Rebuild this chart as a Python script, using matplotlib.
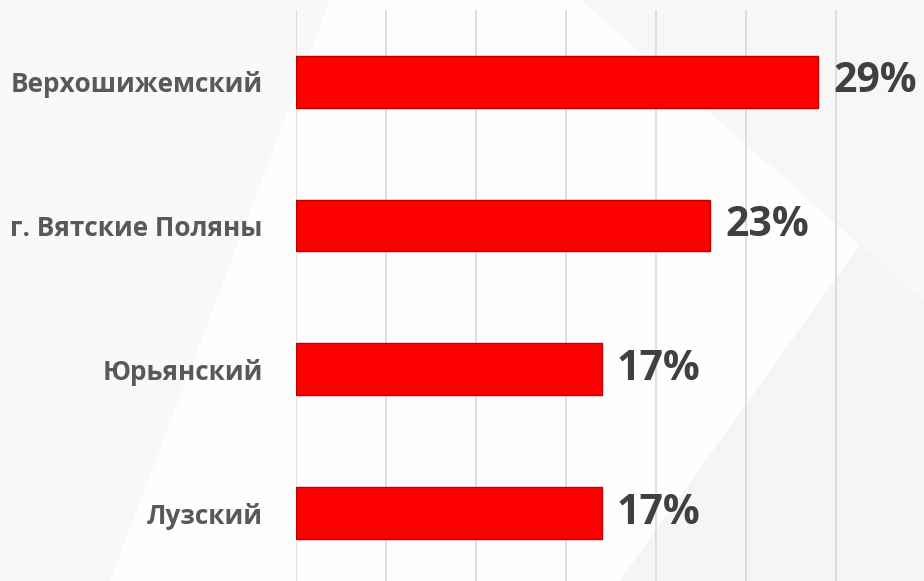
import matplotlib
matplotlib.use("Agg")
import matplotlib.pyplot as plt
from matplotlib.patches import Polygon

categories = ["Верхошижемский", "г. Вятские Поляны", "Юрьянский", "Лузский"]
values = [29, 23, 17, 17]
value_labels = ["29%", "23%", "17%", "17%"]
xticks = [0, 5, 10, 15, 20, 25, 30]

W, H = 924, 581
fig = plt.figure(figsize=(W / 100, H / 100), dpi=100)
fig.patch.set_facecolor("#f8f8f8")

# background layer
bg = fig.add_axes([0, 0, 1, 1], zorder=-10)
bg.set_xlim(0, W)
bg.set_ylim(H, 0)
bg.axis("off")

def poly(pts, color):
    bg.add_patch(Polygon(pts, closed=True, facecolor=color, edgecolor="none"))

poly([(0, 0), (330, 0), (60, 581), (0, 581)], "#f9f9f9")
poly([(330, 0), (580, 0), (860, 245), (620, 581), (110, 581)], "#fefefe")
poly([(600, 0), (924, 0), (924, 160), (860, 245)], "#f7f7f7")
poly([(860, 245), (924, 300), (924, 581), (620, 581)], "#f5f5f5")

left = 296 / W
width = 35 * 18 / W
top = 10
bottom = 585
ax = fig.add_axes([left, 1 - bottom / H, width, (bottom - top) / H], zorder=1)
ax.set_facecolor("none")

y = list(range(len(categories)))
ax.barh(y, values, height=0.36, color="#ff0000", edgecolor="#c00000",
        linewidth=1.0, zorder=3)

ax.set_xlim(0, 35)
ax.set_ylim(len(categories) - 0.5, -0.5)
ax.set_xticks(xticks)
ax.set_xticklabels([])
ax.tick_params(axis="x", length=0)
ax.tick_params(axis="y", length=0, pad=24)
ax.grid(axis="x", color="#d9d9d9", linewidth=1.2, zorder=1)
for s in ax.spines.values():
    s.set_visible(False)

ax.set_yticks(y)
ax.set_yticklabels(categories, fontsize=18.8, fontweight="bold",
                   color="#595959", family="Open Sans")

for yi, v, lab in zip(y, values, value_labels):
    ax.annotate(lab, (v, yi), xytext=(15, 0), textcoords="offset pixels",
                ha="left", va="center", fontsize=29.5, fontweight="bold",
                color="#404040", family="Open Sans", zorder=4)

fig.savefig("out.png", dpi=100, facecolor=fig.get_facecolor())
